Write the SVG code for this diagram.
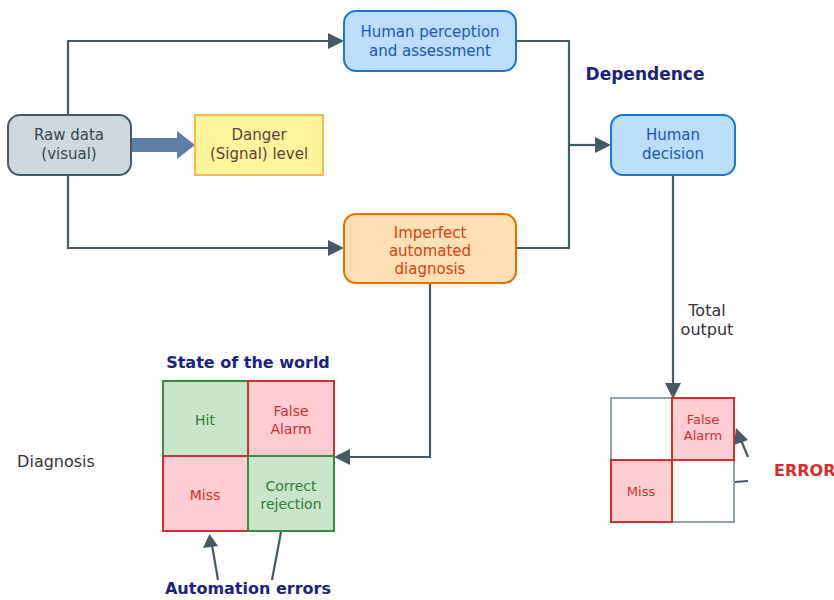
<svg xmlns="http://www.w3.org/2000/svg" width="834" height="600" viewBox="0 0 834 600">
<defs>
<style>
text{font-family:"DejaVu Sans","Liberation Sans",sans-serif;font-size:15px;text-anchor:middle}
.conn{fill:none;stroke:#455a64;stroke-width:2.2}
.head{fill:#455a64}
.bold{font-weight:bold;font-size:16px;fill:#1a237e}
.lbl{font-size:16px;fill:#333333}
.blue{fill:#bbdefb;stroke:#1976d2;stroke-width:2}
.bt{fill:#1a56b0}
.g{fill:#c8e6c9;stroke:#388e3c;stroke-width:2}
.r{fill:#ffcdd2;stroke:#d32f2f;stroke-width:2}
.w{fill:#ffffff;stroke:#90a4ae;stroke-width:2}
.gt{fill:#2e7d32;font-size:14px}
.rt{fill:#d32f2f;font-size:14px}
.st{fill:#d32f2f;font-size:13px}
</style>
</defs>
<rect width="834" height="600" fill="#ffffff"/>
<g id="connectors">
<path class="conn" d="M68,115V41H336"/>
<path class="head" d="M328,33L344,41L328,49z"/>
<path class="conn" d="M68,175V248H336"/>
<path class="head" d="M328,240L344,248L328,256z"/>
<path class="conn" d="M516,41H569V248H516"/>
<path class="conn" d="M569,145H600"/>
<path class="head" d="M595,137L611,145L595,153z"/>
<path class="conn" d="M673,175V388"/>
<path class="head" d="M665,383L673,399L681,383z"/>
<path class="conn" d="M430,283V457H345"/>
<path class="head" d="M350,449L334,457L350,465z"/>
<path d="M131,138H177V131L195,145L177,159V152H131z" fill="#5b7fa6"/>
<path class="conn" d="M218,580L212,545"/>
<path class="head" d="M203,548L209.5,534L218,546z"/>
<path class="conn" d="M272,580L281,532"/>
<path class="conn" d="M748,457L741,440"/>
<path class="head" d="M734,445L736,428L748,440z"/>
<path class="conn" d="M748,481L735,482"/>
</g>
<g id="raw-data">
<rect x="8" y="115" width="123" height="60" rx="12" fill="#cfd8dc" stroke="#455a64" stroke-width="2"/>
<text x="69" y="140" fill="#37474f">Raw data</text>
<text x="69" y="159" fill="#37474f">(visual)</text>
</g>
<g id="danger">
<rect x="195" y="115" width="128" height="60" fill="#fff59d" stroke="#ffb74d" stroke-width="2"/>
<text x="259" y="140" fill="#5d4037">Danger</text>
<text x="259" y="159" fill="#5d4037">(Signal) level</text>
</g>
<g id="human-perception">
<rect class="blue" x="344" y="11" width="172" height="60" rx="12"/>
<text class="bt" x="430" y="37">Human perception</text>
<text class="bt" x="430" y="56">and assessment</text>
</g>
<g id="automated-diagnosis">
<rect x="344" y="214" width="172" height="69" rx="12" fill="#ffe0b2" stroke="#ef6c00" stroke-width="2"/>
<text x="430" y="238" fill="#d84315">Imperfect</text>
<text x="430" y="256" fill="#d84315">automated</text>
<text x="430" y="274" fill="#d84315">diagnosis</text>
</g>
<g id="human-decision">
<rect class="blue" x="611" y="115" width="124" height="60" rx="12"/>
<text class="bt" x="673" y="140">Human</text>
<text class="bt" x="673" y="159">decision</text>
</g>
<g id="labels">
<text class="bold" x="645" y="80" style="font-size:17px">Dependence</text>
<text class="lbl" x="707" y="316">Total</text>
<text class="lbl" x="707" y="335">output</text>
<text class="bold" x="248" y="368">State of the world</text>
<text class="lbl" x="56" y="467">Diagnosis</text>
<text class="bold" x="248" y="594">Automation errors</text>
<text class="bold" x="774" y="476" style="text-anchor:start;fill:#d32f2f">ERROR</text>
</g>
<g id="automation-matrix">
<rect class="g" x="163" y="381" width="85" height="75"/>
<rect class="r" x="248" y="381" width="86" height="75"/>
<rect class="r" x="163" y="456" width="85" height="75"/>
<rect class="g" x="248" y="456" width="86" height="75"/>
<text class="gt" x="205" y="425">Hit</text>
<text class="rt" x="291" y="416">False</text>
<text class="rt" x="291" y="434">Alarm</text>
<text class="rt" x="205" y="500">Miss</text>
<text class="gt" x="291" y="491">Correct</text>
<text class="gt" x="291" y="509">rejection</text>
</g>
<g id="output-matrix">
<rect class="w" x="611" y="398" width="61" height="62"/>
<rect class="w" x="672" y="460" width="62" height="62"/>
<rect class="r" x="672" y="398" width="62" height="62"/>
<rect class="r" x="611" y="460" width="61" height="62"/>
<text class="st" x="703" y="424">False</text>
<text class="st" x="703" y="440">Alarm</text>
<text class="st" x="641" y="496">Miss</text>
</g>
</svg>
